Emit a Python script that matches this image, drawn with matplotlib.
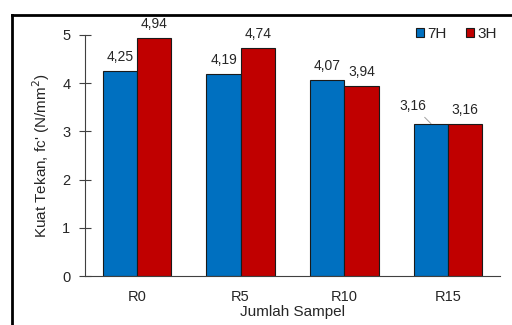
import matplotlib
matplotlib.use("Agg")
import matplotlib.pyplot as plt
from matplotlib.lines import Line2D
import numpy as np

plt.rcParams['font.family'] = ['Liberation Sans', 'DejaVu Sans']

categories = ["R0", "R5", "R10", "R15"]
series_names = ["7H", "3H"]
values_7h = [4.25, 4.19, 4.07, 3.16]
values_3h = [4.94, 4.74, 3.94, 3.16]
labels_7h = ["4,25", "4,19", "4,07", "3,16"]
labels_3h = ["4,94", "4,74", "3,94", "3,16"]
yticks = [0, 1, 2, 3, 4, 5]

blue = "#0070C0"
red = "#C00000"
text_col = "#262626"

fig = plt.figure(figsize=(5.12, 3.25), dpi=100)
ax = fig.add_axes([85/512, 1 - 276/325, 415/512, 241/325])

x = np.arange(len(categories))
w = 0.33
b1 = ax.bar(x - w/2, values_7h, w, color=blue, edgecolor="#1a1a1a", linewidth=0.8, label=series_names[0])
b2 = ax.bar(x + w/2, values_3h, w, color=red, edgecolor="#1a1a1a", linewidth=0.8, label=series_names[1])

for i, (rect, lab) in enumerate(zip(b1, labels_7h)):
    cx = rect.get_x() + rect.get_width()/2
    h = rect.get_height()
    if i == len(categories) - 1:
        ax.annotate(lab, xy=(cx, h), xytext=(-13, 8), textcoords="offset points",
                    ha="center", va="bottom", fontsize=10, color=text_col,
                    arrowprops=dict(arrowstyle="-", color="#a0a0a0", lw=0.7, shrinkA=2, shrinkB=0))
    else:
        ax.annotate(lab, xy=(cx, h), xytext=(0, 5), textcoords="offset points",
                    ha="center", va="bottom", fontsize=10, color=text_col)
for rect, lab in zip(b2, labels_3h):
    cx = rect.get_x() + rect.get_width()/2
    h = rect.get_height()
    ax.annotate(lab, xy=(cx, h), xytext=(0, 5), textcoords="offset points",
                ha="center", va="bottom", fontsize=10, color=text_col)

ax.set_xlim(-0.5, 3.5)
ax.set_ylim(0, 5)
ax.set_yticks(yticks)
ax.set_yticklabels([str(t) for t in yticks])
ax.set_xticks(x)
ax.set_xticklabels(categories)
ax.tick_params(axis="y", direction="inout", length=9, width=0.8, colors="#404040", labelcolor=text_col, labelsize=10.5, pad=6)
ax.tick_params(axis="x", length=0, labelsize=10.5, labelcolor=text_col, pad=10)
for s in ["top", "right"]:
    ax.spines[s].set_visible(False)
ax.spines["left"].set_color("#404040")
ax.spines["bottom"].set_color("#404040")
ax.spines["left"].set_linewidth(0.8)
ax.spines["bottom"].set_linewidth(0.8)

ax.set_xlabel("Jumlah Sampel", fontsize=11, color=text_col, labelpad=1)
ax.set_ylabel("Kuat Tekan, fc' (N/mm$^2$)", fontsize=11, color=text_col, labelpad=7)

leg = ax.legend(loc="upper right", bbox_to_anchor=(1.025, 1.09), ncol=2, frameon=False, fontsize=11,
                handlelength=0.5, handleheight=0.5, handletextpad=0.2, columnspacing=1.3,
                labelcolor=text_col)

# outer frame
fig.add_artist(Line2D([12/512, 12/512], [0, 1 - 15/325], transform=fig.transFigure, color="black", lw=2))
fig.add_artist(Line2D([12/512, 1], [1 - 15/325, 1 - 15/325], transform=fig.transFigure, color="black", lw=2))

fig.savefig("out.png", dpi=100)
